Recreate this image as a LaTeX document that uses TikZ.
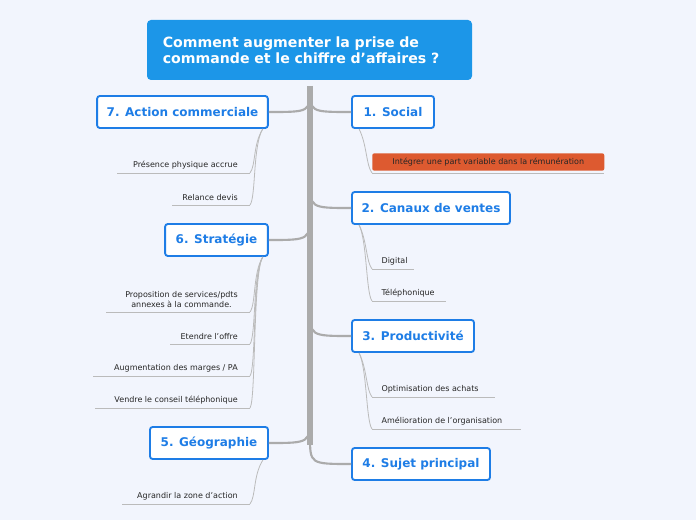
\documentclass[tikz,border=0pt]{standalone}
\usepackage{fontspec}
\setmainfont{DejaVu Sans}
\definecolor{bg}{HTML}{F2F5FD}
\definecolor{rootc}{HTML}{1C96E8}
\definecolor{mb}{HTML}{1E7DE6}
\definecolor{trunk}{HTML}{ABABAB}
\definecolor{thin}{HTML}{BBBBBB}
\definecolor{ora}{HTML}{DD5A30}
\tikzset{
 mainbox/.style={draw=mb,line width=1.4pt,fill=white,rounded corners=2pt,text=mb,font=\bfseries\fontsize{9}{11}\selectfont,minimum height=24pt,inner sep=0pt},
 item/.style={font=\fontsize{6}{7.5}\selectfont,text=black!85,inner sep=1.5pt,inner ysep=3pt},
 uline/.style={draw=thin,line width=0.6pt},
 branch/.style={draw=trunk,line width=1.6pt},
 conn/.style={draw=thin,line width=0.6pt},
}
\begin{document}
\begin{tikzpicture}[x=0.75pt,y=-0.75pt]
\fill[bg] (0,0) rectangle (696,520);
\useasboundingbox (0,0) rectangle (696,520);
\node[fill=rootc,rounded corners=3pt,minimum width=243.75pt,minimum height=45pt,text=white,font=\bfseries\fontsize{10.6}{12}\selectfont,align=left,text width=220pt] (root) at (309.5,50) {Comment augmenter la prise de\\commande et le chiffre d'affaires ?};
% trunk
\coordinate (t0) at (310,86);
\coordinate (t1) at (310,445);
\draw[draw=trunk,line width=4pt] (t0) -- (t1);
% main nodes
\node[mainbox,minimum width=128pt] (n7) at (182.5,112) {7. Action commerciale};
\node[mainbox,minimum width=61.5pt] (n1) at (393,112) {1. Social};
\node[mainbox,minimum width=118.5pt] (n2) at (431,208) {2. Canaux de ventes};
\node[mainbox,minimum width=77pt] (n6) at (216.5,240) {6. Stratégie};
\node[mainbox,minimum width=91.5pt] (n3) at (413,336) {3. Productivité};
\node[mainbox,minimum width=88.5pt] (n5) at (209,443) {5. Géographie};
\node[mainbox,minimum width=103.5pt] (n4) at (421,464) {4. Sujet principal};
% branches
\draw[branch] (310,88) .. controls (310,112) .. (n7.east);
\draw[branch] (310,88) .. controls (310,112) .. (n1.west);
\draw[branch] (310,180) .. controls (310,208) .. (n2.west);
\draw[branch] (310,212) .. controls (310,240) .. (n6.east);
\draw[branch] (310,308) .. controls (310,336) .. (n3.west);
\draw[branch] (310,415) .. controls (310,443) .. (n5.east);
\draw[branch] (310,436) .. controls (310,464) .. (n4.west);
% left items
\foreach \nm/\pn/\y/\xl/\txt in {
 a/n7/173/117/{Présence physique accrue},
 b/n7/205/172/{Relance devis},
 d/n6/344/170/{Etendre l'offre},
 e/n6/376/93/{Augmentation des marges / PA},
 f/n6/408/95/{Vendre le conseil téléphonique},
 g/n5/504/122/{Agrandir la zone d'action}}{
 \node[item,anchor=south east,inner xsep=9pt] (\nm) at (250,\y) {\txt};
 \draw[uline] (\xl,\y) -- (\nm.south east);
 \draw[conn] ([xshift=-4.5pt]\pn.south east) .. controls ([xshift=-12pt,yshift=-12pt]\pn.south east) and (256,\y-8) .. (\nm.south east);
}
\node[item,anchor=south east,inner xsep=9pt,align=center] (c) at (250,312) {Proposition de services/pdts\\annexes à la commande.};
\draw[uline] (106,312) -- (c.south east);
\draw[conn] ([xshift=-4.5pt]n6.south east) .. controls ([xshift=-12pt,yshift=-12pt]n6.south east) and (256,304) .. (c.south east);
% right items
\foreach \nm/\pn/\y/\xr/\txt in {
 h/n2/269/414/{Digital},
 i/n2/301/446/{Téléphonique},
 j/n3/397/495/{Optimisation des achats},
 k/n3/429/521/{Amélioration de l'organisation}}{
 \node[item,anchor=south west,inner xsep=7pt] (\nm) at (372,\y) {\txt};
 \draw[uline] (\nm.south west) -- (\xr,\y);
 \draw[conn] ([xshift=6pt]\pn.south west) .. controls ([xshift=12pt,yshift=-12pt]\pn.south west) and (366,\y-8) .. (\nm.south west);
}
\node[item,anchor=west,fill=ora,rounded corners=1.5pt,minimum width=174pt,minimum height=13pt,align=left,inner xsep=5pt] (s) at (372,162) {Intégrer une part variable dans la rémunération};
\coordinate (sb) at (372,173);
\draw[uline] (sb) -- (604,173);
\draw[conn] ([xshift=6pt]n1.south west) .. controls ([xshift=12pt,yshift=-12pt]n1.south west) and (366,165) .. (sb);
\end{tikzpicture}
\end{document}
